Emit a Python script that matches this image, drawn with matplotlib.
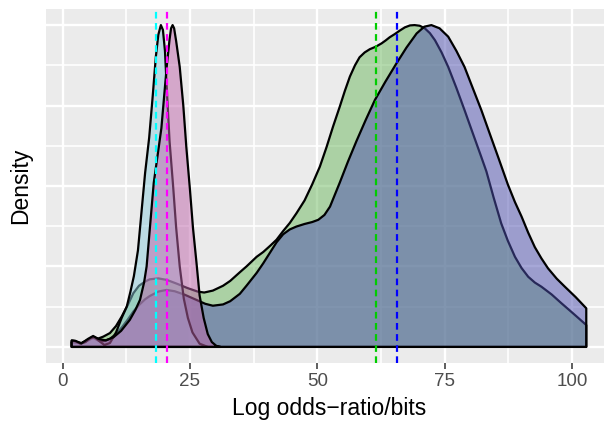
import numpy as np
import matplotlib
matplotlib.use("Agg")
import matplotlib.pyplot as plt
from matplotlib.patches import Polygon

plt.rcParams['font.family'] = ['Liberation Sans', 'DejaVu Sans']

#### DATA (scaled densities) ####

green_x = [1.8, 2.8, 3.7, 5.0, 6.0, 7.0, 8.0, 9.3, 10.5, 11.6, 12.8, 13.9, 15.0, 16.2,
           17.1, 18.8, 20.5, 22.5, 24.5, 26.5, 27.8, 29.5, 31.5, 32.9, 34.8, 36.1, 38.1,
           39.4, 40.8, 42.0, 43.3, 44.6, 45.9, 47.5, 49.0, 50.5, 51.8, 53.1, 54.4, 55.4,
           56.4, 57.4, 58.3, 59.3, 60.3, 61.5, 62.6, 63.4, 64.2, 65.2, 66.2, 67.2, 68.2,
           69.1, 70.1, 71.1, 72.1, 73.1, 74.4, 75.7, 77.3, 78.9, 80.5, 82.2, 83.2, 84.6,
           86.1, 87.4, 88.8, 90.1, 91.4, 92.7, 94.0, 96.0, 97.9, 100.3, 102.8]
green_y = [0.015, 0.014, 0.012, 0.022, 0.030, 0.026, 0.032, 0.043, 0.065, 0.094, 0.130,
           0.167, 0.190, 0.203, 0.210, 0.213, 0.208, 0.196, 0.183, 0.172, 0.169, 0.175,
           0.190, 0.205, 0.232, 0.250, 0.280, 0.295, 0.315, 0.333, 0.360, 0.385, 0.415,
           0.455, 0.505, 0.560, 0.620, 0.685, 0.746, 0.795, 0.840, 0.875, 0.900, 0.915,
           0.925, 0.933, 0.943, 0.952, 0.962, 0.972, 0.983, 0.993, 0.999, 1.000, 0.998,
           0.990, 0.975, 0.953, 0.915, 0.870, 0.805, 0.736, 0.665, 0.590, 0.545, 0.465,
           0.384, 0.330, 0.280, 0.245, 0.218, 0.200, 0.187, 0.163, 0.136, 0.103, 0.068]

blue_x = [1.8, 2.8, 3.7, 5.0, 6.0, 7.0, 8.0, 9.3, 10.5, 11.6, 12.8, 13.9, 15.0, 16.2,
          17.1, 18.8, 20.4, 22.0, 24.0, 26.0, 28.0, 29.5, 31.5, 32.9, 34.8, 36.1, 38.1,
          39.4, 40.8, 42.0, 43.3, 44.6, 45.9, 47.5, 49.0, 50.2, 51.4, 52.5, 53.5, 54.4,
          56.0, 57.7, 59.5, 61.3, 63.4, 65.5, 67.5, 69.5, 71.0, 72.4, 74.0, 75.7, 77.3,
          78.9, 80.5, 82.2, 83.8, 85.5, 87.4, 88.8, 90.1, 91.4, 92.7, 94.0, 95.3, 97.0,
          98.6, 100.7, 102.8]
blue_y = [0.015, 0.013, 0.011, 0.020, 0.028, 0.020, 0.018, 0.025, 0.040, 0.060, 0.085,
          0.110, 0.130, 0.148, 0.158, 0.172, 0.177, 0.173, 0.162, 0.148, 0.134, 0.128,
          0.132, 0.142, 0.165, 0.190, 0.230, 0.260, 0.295, 0.325, 0.350, 0.365, 0.374,
          0.382, 0.388, 0.395, 0.410, 0.436, 0.475, 0.510, 0.575, 0.640, 0.705, 0.767,
          0.825, 0.880, 0.930, 0.974, 0.995, 1.000, 0.990, 0.964, 0.920, 0.870, 0.805,
          0.736, 0.665, 0.590, 0.505, 0.450, 0.405, 0.355, 0.310, 0.275, 0.244, 0.212,
          0.187, 0.155, 0.120]

cyan_x = [1.8, 2.5, 3.5, 4.5, 5.5, 6.3, 7.2, 8.2, 9.3, 10.5, 11.6, 12.6, 13.3, 14.0,
          14.8, 15.5, 16.2, 17.0, 17.7, 18.3, 18.8, 19.3, 19.7, 20.1, 20.5, 21.0, 21.7,
          22.3, 23.0, 23.8, 24.6, 25.5, 26.9, 28.5]
cyan_y = [0.020, 0.018, 0.010, 0.015, 0.028, 0.030, 0.018, 0.006, 0.012, 0.045, 0.090,
          0.125, 0.170, 0.220, 0.300, 0.420, 0.540, 0.650, 0.780, 0.900, 0.970, 1.000,
          0.985, 0.920, 0.790, 0.640, 0.500, 0.370, 0.250, 0.150, 0.090, 0.045, 0.010,
          0.000]

pink_x = [1.8, 2.5, 3.7, 5.0, 6.0, 7.0, 8.5, 10.0, 11.5, 13.2, 14.3, 15.2, 16.0, 16.5,
          17.2, 17.9, 18.7, 19.4, 20.0, 20.5, 21.0, 21.3, 21.6, 21.9, 22.3, 23.0, 23.7,
          24.3, 25.0, 25.6, 26.3, 26.9, 27.7, 28.5, 29.3, 30.2, 31.0]
pink_y = [0.020, 0.019, 0.011, 0.025, 0.034, 0.025, 0.020, 0.030, 0.050, 0.084, 0.115,
          0.146, 0.200, 0.250, 0.380, 0.510, 0.600, 0.680, 0.790, 0.880, 0.955, 0.990,
          1.000, 0.990, 0.950, 0.870, 0.750, 0.620, 0.490, 0.370, 0.260, 0.160, 0.090,
          0.040, 0.015, 0.003, 0.000]

# drawing order: green, blue, cyan, pink
curves = [(green_x, green_y, '#6DB95F'),
          (blue_x, blue_y, '#4F51B1'),
          (cyan_x, cyan_y, '#8DCDDD'),
          (pink_x, pink_y, '#BF65AB')]

means = [18.3, 20.5, 61.5, 65.6]
mean_colors = ['#00FFFF', '#FF00FF', '#00CD00', '#0000FF']

x_ticks = [0, 25, 50, 75, 100]

#### PLOT ####

fig = plt.figure(figsize=(6.04, 4.21), dpi=100)
ax = fig.add_axes([46 / 604, 58 / 421, 566 / 604, 354 / 421])
ax.set_facecolor('#EBEBEB')

for cx, cy, col in curves:
    verts = [(cx[0], 0)] + list(zip(cx, cy)) + [(cx[-1], 0)]
    rgb = matplotlib.colors.to_rgb(col)
    ax.add_patch(Polygon(verts, closed=True, facecolor=(*rgb, 0.5),
                         edgecolor='black', lw=1.6, joinstyle='round', zorder=2))

for m, c in zip(means, mean_colors):
    ax.axvline(m, color=c, ls=(0, (3, 2)), lw=1.6, zorder=3)

ax.set_xlim(-3.25, 107.85)
ax.set_ylim(-0.05, 1.05)
ax.set_xticks(x_ticks)
ax.set_xticks([12.5, 37.5, 62.5, 87.5], minor=True)
ax.set_yticks([0, 0.25, 0.5, 0.75, 1.0])
ax.set_yticks([0.125, 0.375, 0.625, 0.875], minor=True)
ax.tick_params(axis='y', which='both', length=0, labelleft=False)
ax.tick_params(axis='x', which='major', length=4, width=1.1, color='#333333',
               labelsize=13.5, labelcolor='#4D4D4D', pad=3)
ax.tick_params(axis='x', which='minor', length=0)
ax.grid(which='major', color='white', lw=1.7)
ax.grid(which='minor', color='white', lw=1.2)
ax.set_axisbelow(True)
for s in ax.spines.values():
    s.set_visible(False)

ax.set_xlabel('Log odds\u2212ratio/bits', fontsize=16.5, labelpad=5)
ax.set_ylabel('Density', fontsize=16.5)
ax.yaxis.set_label_coords(-0.025, 0.5)

fig.savefig('out.png', dpi=100)
